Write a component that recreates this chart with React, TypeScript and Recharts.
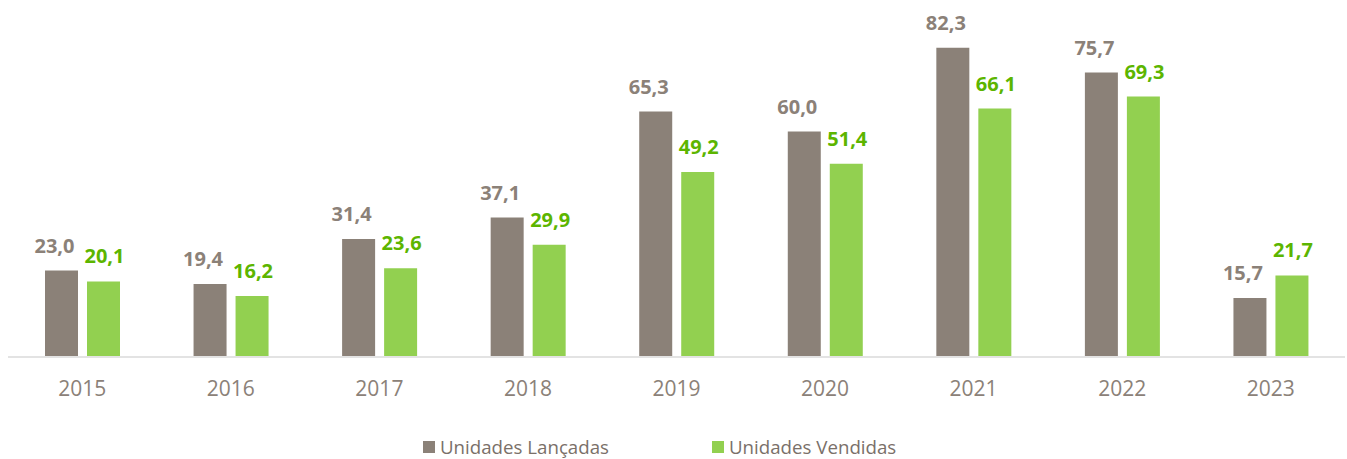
import { Bar, BarChart, LabelList, Legend, XAxis, YAxis } from "recharts";

const years = ["2015", "2016", "2017", "2018", "2019", "2020", "2021", "2022", "2023"];
const lancadas = [23.0, 19.4, 31.4, 37.1, 65.3, 60.0, 82.3, 75.7, 15.7];
const vendidas = [20.1, 16.2, 23.6, 29.9, 49.2, 51.4, 66.1, 69.3, 21.7];

const GRAY = "#8b8178";
const GREEN = "#92d050";
const GREEN_TEXT = "#5cb500";
const FONT = "'Open Sans', sans-serif";

const fmt = (v: any) => Number(v).toFixed(1).replace(".", ",");

const makeLabel = (color: string, dx: number) => (props: any) => {
  const { x, y, width, value } = props;
  return (
    <text
      x={Number(x) + Number(width) / 2 + dx}
      y={Number(y) - 18}
      textAnchor="middle"
      fill={color}
      fontSize={20}
      fontWeight={700}
      fontFamily={FONT}
    >
      {fmt(value)}
    </text>
  );
};

function LegendContent() {
  const items = [
    { label: "Unidades Lançadas", color: GRAY, left: 415 },
    { label: "Unidades Vendidas", color: GREEN, left: 704 },
  ];
  return (
    <div style={{ position: "relative", height: 42, fontFamily: FONT }}>
      {items.map((it) => (
        <div
          key={it.label}
          style={{
            position: "absolute",
            left: it.left,
            top: 17,
            display: "flex",
            alignItems: "center",
            gap: 5,
            fontSize: 18.7,
            color: "#7a7069",
          }}
        >
          <span style={{ width: 12, height: 12, background: it.color, display: "inline-block" }} />
          <span>{it.label}</span>
        </div>
      ))}
    </div>
  );
}

export default function App() {
  const data = years.map((y, i) => ({ year: y, lancadas: lancadas[i], vendidas: vendidas[i] }));

  return (
    <div style={{ position: "absolute", left: 0, top: 0, width: 1347, height: 459, background: "#fff" }}>
      <BarChart
        width={1347}
        height={459}
        data={data}
        margin={{ top: 0, right: 2, bottom: 0, left: 8 }}
        barGap={9}
        barSize={33}
      >
        <XAxis
          dataKey="year"
          height={60}
          tickLine={false}
          axisLine={{ stroke: "#e3e3e3", strokeWidth: 2 }}
          tick={{ fill: GRAY, fontSize: 21, fontFamily: FONT }}
          tickMargin={18}
        />
        <YAxis hide domain={[0, 95]} />
        <Legend verticalAlign="bottom" height={42} content={<LegendContent />} />
        <Bar dataKey="lancadas" fill={GRAY} isAnimationActive={false}>
          <LabelList dataKey="lancadas" content={makeLabel(GRAY, -7)} />
        </Bar>
        <Bar dataKey="vendidas" fill={GREEN} isAnimationActive={false}>
          <LabelList dataKey="vendidas" content={makeLabel(GREEN_TEXT, 1)} />
        </Bar>
      </BarChart>
    </div>
  );
}
